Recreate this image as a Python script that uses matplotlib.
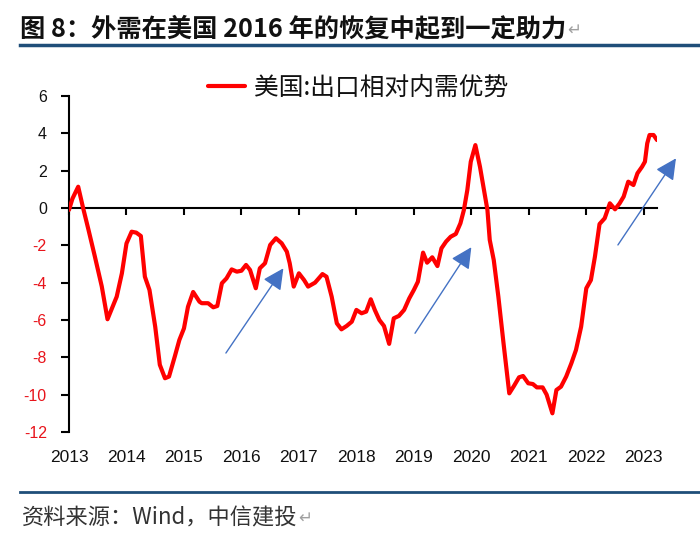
import matplotlib
matplotlib.use("Agg")
import matplotlib.pyplot as plt
from matplotlib.lines import Line2D

# ---- data (decimal years, index value) ----
dates = [2013.00, 2013.06, 2013.16, 2013.24, 2013.34, 2013.45, 2013.57, 2013.67, 2013.83, 2013.92,
         2014.00, 2014.09, 2014.17, 2014.25, 2014.32, 2014.40, 2014.50, 2014.58, 2014.67, 2014.74,
         2014.84, 2014.92, 2015.00, 2015.07, 2015.16, 2015.27, 2015.31, 2015.42, 2015.51, 2015.58,
         2015.66, 2015.74, 2015.83, 2015.92, 2016.00, 2016.08, 2016.15, 2016.25, 2016.32, 2016.41,
         2016.50, 2016.60, 2016.70, 2016.79, 2016.84, 2016.91, 2017.00, 2017.09, 2017.16, 2017.28,
         2017.41, 2017.48, 2017.57, 2017.66, 2017.74, 2017.83, 2017.92, 2018.00, 2018.09, 2018.17,
         2018.25, 2018.32, 2018.40, 2018.48, 2018.57, 2018.65, 2018.74, 2018.83, 2018.92, 2019.00,
         2019.07, 2019.16, 2019.23, 2019.32, 2019.41, 2019.48, 2019.56, 2019.64, 2019.73, 2019.81,
         2019.87, 2019.93, 2019.99, 2020.07, 2020.15, 2020.22, 2020.28, 2020.32, 2020.39, 2020.47,
         2020.56, 2020.66, 2020.74, 2020.83, 2020.90, 2020.99, 2021.07, 2021.14, 2021.24, 2021.31,
         2021.41, 2021.48, 2021.56, 2021.65, 2021.74, 2021.82, 2021.91, 2022.00, 2022.08, 2022.15,
         2022.23, 2022.32, 2022.41, 2022.50, 2022.58, 2022.65, 2022.73, 2022.82, 2022.89, 2022.97,
         2023.02, 2023.06, 2023.10, 2023.17, 2023.23]
values = [-0.10, 0.50, 1.14, 0.07, -1.18, -2.60, -4.20, -5.96, -4.75, -3.50,
          -1.90, -1.27, -1.32, -1.50, -3.68, -4.39, -6.36, -8.40, -9.12, -9.03,
          -7.96, -7.07, -6.45, -5.29, -4.50, -5.02, -5.10, -5.10, -5.32, -5.25,
          -4.03, -3.77, -3.29, -3.41, -3.36, -3.05, -3.32, -4.30, -3.23, -2.96,
          -1.98, -1.62, -1.89, -2.34, -2.96, -4.21, -3.50, -3.86, -4.21, -4.00,
          -3.54, -3.68, -4.75, -6.18, -6.50, -6.32, -6.09, -5.46, -5.64, -5.55,
          -4.89, -5.46, -6.00, -6.32, -7.28, -5.91, -5.78, -5.46, -4.84, -4.39,
          -3.95, -2.39, -2.93, -2.64, -3.11, -2.16, -1.80, -1.54, -1.39, -0.82,
          -0.11, 0.96, 2.48, 3.37, 2.21, 0.96, -0.11, -1.71, -2.79, -4.75,
          -7.25, -9.93, -9.54, -9.07, -9.00, -9.39, -9.43, -9.61, -9.61, -10.00,
          -11.00, -9.75, -9.57, -9.03, -8.32, -7.61, -6.36, -4.30, -3.86, -2.61,
          -0.86, -0.55, 0.25, -0.07, 0.25, 0.61, 1.41, 1.23, 1.86, 2.21,
          2.48, 3.46, 3.91, 3.91, 3.64]
series_name = "美国:出口相对内需优势"
year_labels = [2013, 2014, 2015, 2016, 2017, 2018, 2019, 2020, 2021, 2022, 2023]
y_ticks = [-12, -10, -8, -6, -4, -2, 0, 2, 4, 6]
# arrows: (tail date, tail value, head date, head value)
arrow_tail_x = [2015.73, 2019.02, 2022.55]
arrow_tail_y = [-7.77, -6.71, -1.98]
arrow_head_x = [2016.73, 2020.00, 2023.56]
arrow_head_y = [-3.23, -2.10, 2.66]

title = "图 8：外需在美国 2016 年的恢复中起到一定助力"
source = "资料来源：Wind，中信建投"

CJK = ['Noto Sans CJK SC', 'DejaVu Sans']
NUM = ['Liberation Sans', 'DejaVu Sans']

W, H = 700, 538
fig = plt.figure(figsize=(7, 5.38), dpi=100)
fig.patch.set_facecolor('white')

ax = fig.add_axes([69 / W, 1 - 432 / H, (657 - 69) / W, 336 / H])
ax.plot(dates, values, color='#FF0000', lw=3.0, solid_joinstyle='round',
        solid_capstyle='round', label=series_name, zorder=3)

ax.set_xlim(2013, 2023.23)
ax.set_ylim(-12, 6)

for s in ['top', 'right']:
    ax.spines[s].set_visible(False)
ax.spines['left'].set_linewidth(1.5)
ax.spines['bottom'].set_position(('data', 0))
ax.spines['bottom'].set_linewidth(1.5)

ax.set_xticks(year_labels)
ax.tick_params(axis='x', direction='out', length=5, width=1.5, labelbottom=False)
for yr in year_labels:
    ax.text(yr, -13.35, str(yr), ha='center', va='center', fontsize=12.5,
            family=NUM, color='#111111', clip_on=False)

ax.set_yticks(y_ticks)
ax.set_yticklabels([str(v) for v in y_ticks], family=NUM, fontsize=11.5)
ax.tick_params(axis='y', direction='out', length=6, width=1.5, pad=10)
for lab, v in zip(ax.get_yticklabels(), y_ticks):
    lab.set_color('#E8141B' if v < 0 else '#111111')

for tx, ty, hx, hy in zip(arrow_tail_x, arrow_tail_y, arrow_head_x, arrow_head_y):
    ax.annotate('', xy=(hx, hy), xytext=(tx, ty), annotation_clip=False,
                arrowprops=dict(arrowstyle='-|>,head_length=0.8,head_width=0.4',
                                color='#4472C4', lw=1.0, mutation_scale=16,
                                shrinkA=0, shrinkB=0))

leg = ax.legend(loc='center left', bbox_to_anchor=(208 / W, 1 - 88 / H),
                bbox_transform=fig.transFigure, frameon=False, borderpad=0,
                borderaxespad=0, handlelength=1.5, handletextpad=0.35,
                prop={'family': CJK, 'size': 17.8, 'weight': 'light'})
for t in leg.get_texts():
    t.set_color('#111111')

# title and rules
t1 = fig.text(20 / W, 1 - 30 / H, title, ha='left', va='center', fontsize=18.2,
              fontweight='bold', family=CJK, color='#111111')
fig.add_artist(Line2D([20 / W, 1.0], [1 - 45 / H, 1 - 45 / H], color='#1F4E79', lw=2.5))
fig.add_artist(Line2D([20 / W, 1.0], [1 - 492 / H, 1 - 492 / H], color='#1F4E79', lw=2.0))
t2 = fig.text(22 / W, 1 - 518 / H, source, ha='left', va='center', fontsize=16,
              family=CJK, style='italic', color='#333333')

fig.canvas.draw()
r = fig.canvas.get_renderer()
for t in (t1, t2):
    bb = t.get_window_extent(renderer=r)
    fig.text(bb.x1 / (W) + 1 / W, t.get_position()[1], "↵", ha='left', va='center',
             fontsize=12, family=['DejaVu Sans'], color='#A0A0A0')

fig.savefig('out.png', dpi=100, facecolor='white')
